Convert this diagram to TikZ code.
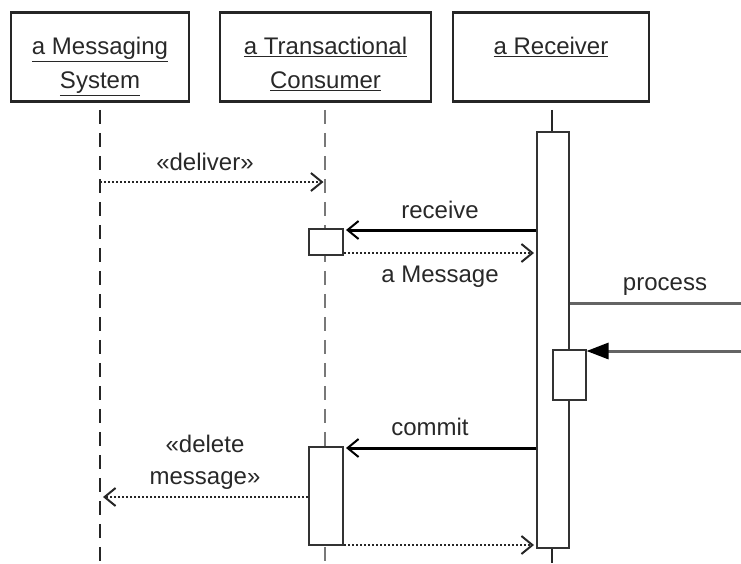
\documentclass[tikz,border=0pt]{standalone}
\usepackage{fontspec}
\setmainfont{Liberation Sans}
\usetikzlibrary{arrows.meta}

\definecolor{inkgray}{RGB}{40,40,40}
\definecolor{lifegray}{RGB}{120,120,120}
\definecolor{msggray}{RGB}{100,100,100}

\begin{document}
\begin{tikzpicture}[x=1pt,y=-1pt,font=\fontsize{24}{32}\selectfont,text=inkgray,
    obj/.style={draw=black!85,line width=2.5pt,minimum width=#1,minimum height=89pt,inner sep=0pt},
    objname/.style={anchor=north,align=center,inner sep=0pt,yshift=-26pt},
    act/.style={draw=black!80,line width=2pt,fill=white,minimum width=#1,inner sep=0pt},
    life/.style={line width=2.5pt,dash pattern=on 14pt off 9pt},
    sync/.style={line width=3pt,draw=black,-{Straight Barb[length=11pt,width=18pt,line width=2pt]}},
    reply/.style={line width=2.2pt,draw=black!85,dash pattern=on 2pt off 2pt,-{Straight Barb[length=11pt,width=18pt,line width=2pt]}},
    msgname/.style={anchor=base,inner sep=0pt}]
  \useasboundingbox (0,0) rectangle (741,563);

  % objects
  \node[obj=178pt] (ms) at (100,57) {};
  \node[obj=211pt] (tc) at (325.5,57) {};
  \node[obj=196pt] (rc) at (551,57) {};
  \node[objname] (msl) at (ms.north) {\underline{a Messaging}\\[2pt]\underline{System}};
  \node[objname] (tcl) at (tc.north) {\underline{a Transactional}\\[2pt]\underline{Consumer}};
  \node[objname] (rcl) at (rc.north) {\underline{a Receiver}};

  % lifelines
  \coordinate (msend) at (100,563);
  \coordinate (tcend) at (325,563);
  \coordinate (rcend) at (552,563);
  \draw[life,black!85] ([yshift=-7pt]ms.south) -- (msend);
  \draw[life,lifegray] ([xshift=-0.5pt,yshift=-7pt]tc.south) -- (tcend);
  \draw[line width=2.5pt,black!85] ([xshift=1pt,yshift=-7pt]rc.south) -- (rcend);

  % activations
  \node[act=32pt,minimum height=416pt] (rcact) at (553,340) {};
  \node[act=33pt,minimum height=50pt] (rcsub) at (569,375) {};
  \node[act=34pt,minimum height=26pt] (tcact1) at (326,241.5) {};
  \node[act=34pt,minimum height=98pt] (tcact2) at (326,496) {};

  % message rows
  \coordinate (m1) at (0,182);
  \coordinate (m2) at (0,230);
  \coordinate (m3) at (0,253);
  \coordinate (m4) at (0,303);
  \coordinate (m5) at (0,351);
  \coordinate (m6) at (0,448);
  \coordinate (m7) at (0,497);
  \coordinate (m8) at (0,545);
  \coordinate (pout) at (741,303);
  \coordinate (pin) at (741,351);

  \draw[reply] (ms |- m1) -- ([xshift=-2pt]tc |- m1);
  \node[msgname] (dlv) at (205,170) {«deliver»};

  \draw[sync] (rcact.west |- m2) -- ([xshift=2pt]tcact1.east |- m2);
  \node[msgname] (rcv) at (440,218) {receive};

  \draw[reply] (tcact1.east |- m3) -- ([xshift=-2pt]rcact.west |- m3);
  \node[msgname] (amsg) at (440,282) {a Message};

  \draw[line width=3pt,msggray] (rcact.east |- m4) -- (pout);
  \node[msgname] (prc) at (665,290) {process};
  \draw[line width=3pt,msggray,-{Triangle[length=22pt,width=16pt,color=black]}] (pin) -- (rcsub.east |- m5);

  \draw[sync] (rcact.west |- m6) -- ([xshift=2pt]tcact2.east |- m6);
  \node[msgname] (cmt) at (430,435) {commit};

  \draw[reply] (tcact2.west |- m7) -- ([xshift=3pt]ms |- m7);
  \node[msgname,align=center,anchor=north] (del) at (205,435) {«delete\\message»};

  \draw[reply] (tcact2.east |- m8) -- ([xshift=-2pt]rcact.west |- m8);
\end{tikzpicture}
\end{document}
